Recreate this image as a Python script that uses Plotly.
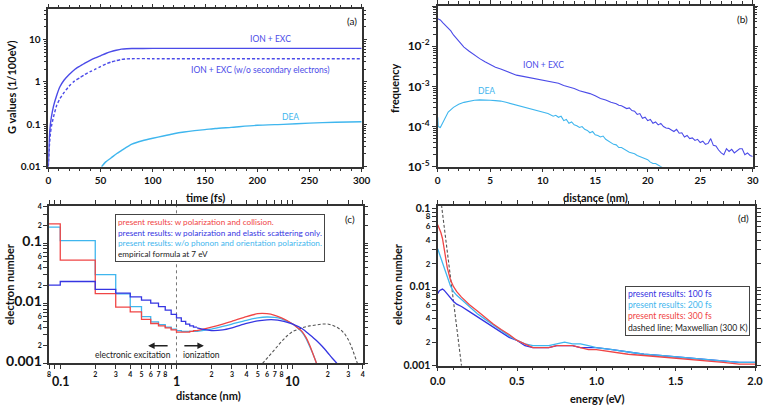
import math
import plotly.graph_objects as go

# ---------------- data ----------------
# (a) G values vs time
a_t_ion = [0, 1, 2, 3, 5, 8, 11, 15, 20, 25, 30, 35, 40, 45, 50, 55, 60, 65, 70, 75, 80, 100, 150, 200, 250, 300]
a_ion = [0.01, 0.05, 0.1, 0.15, 0.27, 0.48, 0.76, 1.1, 1.5, 1.95, 2.35, 2.8, 3.25, 3.7, 4.15, 4.7, 5.2, 5.6, 5.95, 6.1, 6.15, 6.2, 6.2, 6.2, 6.2, 6.2]
a_ion_nosec = [0.01, 0.03, 0.06, 0.09, 0.15, 0.28, 0.4, 0.56, 0.8, 1.05, 1.25, 1.5, 1.75, 2.0, 2.3, 2.65, 2.95, 3.2, 3.4, 3.52, 3.55, 3.55, 3.55, 3.55, 3.55, 3.55]
a_t_dea = [51, 55, 60, 65, 70, 80, 90, 100, 110, 120, 130, 140, 150, 160, 175, 200, 225, 250, 275, 300]
a_dea = [0.01, 0.013, 0.016, 0.02, 0.024, 0.034, 0.041, 0.047, 0.053, 0.06, 0.066, 0.071, 0.075, 0.08, 0.085, 0.095, 0.1, 0.107, 0.112, 0.115]

# (b) frequency vs distance
b_x_ion = [0, 0.25, 0.5, 0.75, 1.0, 1.25, 1.5, 2.0, 2.5, 3.0, 3.5, 4.0, 4.5, 5.0, 5.5, 6.0, 6.5, 7.0, 7.5, 8.0,
           8.5, 9.0, 9.5, 10.0, 10.5, 11.0, 11.5, 12.0, 12.5, 13.0, 13.5, 14.0, 14.5, 15.0, 15.5, 16.0, 16.5,
           17.0, 17.25, 17.5, 17.75, 18.0, 18.25, 18.5, 18.75, 19.0, 19.25, 19.5, 19.75, 20.0, 20.25, 20.5,
           20.75, 21.0, 21.25, 21.5, 21.75, 22.0, 22.25, 22.5, 22.75, 23.0, 23.25, 23.5, 23.75, 24.0, 24.25,
           24.5, 24.75, 25.0, 25.25, 25.5, 25.75, 26.0, 26.25, 26.5, 26.75, 27.0, 27.25, 27.5, 27.75, 28.0,
           28.25, 28.5, 28.75, 29.0, 29.25, 29.5, 29.75, 30.0]
b_ion = [0.048, 0.045, 0.038, 0.033, 0.028, 0.024, 0.019, 0.013, 0.0095, 0.0075, 0.006, 0.0049, 0.0041, 0.0035,
         0.003, 0.0027, 0.0024, 0.0021, 0.0019, 0.0018, 0.0017, 0.0016, 0.0015, 0.0014, 0.00135, 0.0013, 0.0012,
         0.00105, 0.00097, 0.00088, 0.00078, 0.00072, 0.00066, 0.00058, 0.0005, 0.00046, 0.0004,
         0.00037, 0.00034, 0.00033, 0.0003, 0.00028, 0.00029, 0.00025, 0.00024, 0.0002, 0.00021, 0.00016,
         0.00017, 0.00014, 0.00015, 0.00012, 0.00013, 0.00011, 0.00012, 0.0001, 0.000092, 0.00009, 0.000082,
         0.000075, 0.000085, 0.000068, 0.00007, 0.000055, 0.00006, 0.00005, 0.000052, 0.000045, 0.000048,
         0.00004, 0.000043, 0.000036, 0.000038, 0.00005, 0.000034, 0.000033, 0.000026, 0.000022, 0.00002,
         0.000028, 0.000024, 0.000027, 0.000022, 0.000025, 0.000028, 0.000028, 0.00002, 0.000022, 0.000019, 0.000018]
b_x_dea = [0, 0.05, 0.25, 0.5, 0.75, 1.0, 1.5, 2.0, 2.5, 3.0, 3.5, 4.0, 4.5, 5.0, 5.5, 6.0, 6.5, 7.0, 7.5, 8.0,
           8.5, 9.0, 9.5, 10.0, 10.5, 11.0, 11.25, 11.5, 11.75, 12.0, 12.25, 12.5, 12.75, 13.0, 13.25, 13.5,
           13.75, 14.0, 14.25, 14.5, 14.75, 15.0, 15.25, 15.5, 15.75, 16.0, 16.25, 16.5, 16.75, 17.0, 17.25,
           17.5, 17.75, 18.0, 18.25, 18.5, 18.75, 19.0, 19.25, 19.5, 19.75, 20.0, 20.25, 20.5, 20.75, 21.0, 21.4]
b_dea = [0.00017, 0.0001, 0.000095, 0.00013, 0.00018, 0.00023, 0.0003, 0.00036, 0.0004, 0.00043, 0.00045,
         0.00046, 0.00046, 0.00045, 0.00044, 0.00043, 0.0004, 0.00037, 0.00035, 0.00032, 0.00029, 0.00027,
         0.00025, 0.00023, 0.00021, 0.00018, 0.00019, 0.00017, 0.00018, 0.00014, 0.00015, 0.00012, 0.00013,
         0.00011, 0.000105, 0.000095, 0.0001, 0.000085, 0.00008, 0.00007, 0.000075, 0.000062, 0.00006,
         0.000055, 0.000058, 0.000048, 0.000044, 0.00004, 0.000036, 0.000035, 0.00003, 0.00003, 0.000027,
         0.000025, 0.000023, 0.000022, 0.000021, 0.000019, 0.000018, 0.000017, 0.000016, 0.000015, 0.000013,
         0.000012, 0.000012, 0.000011, 0.0000095]

# (c) electron number vs distance: step part (bin edges) and smooth part
c_step_edges = [0.08, 0.1, 0.2, 0.3, 0.4, 0.5, 0.6, 0.7, 0.8, 0.9, 1.0, 1.1, 1.2, 1.3, 1.4, 1.5]
c_red_steps = [0.21, 0.052, 0.0145, 0.0086, 0.0072, 0.0054, 0.0046, 0.0042, 0.0039, 0.0036, 0.0033, 0.0033, 0.0033, 0.0034, 0.0035]
c_cyan_steps = [0.185, 0.11, 0.030, 0.0143, 0.0088, 0.006, 0.0049, 0.0044, 0.004, 0.0037, 0.0035, 0.0034, 0.0034, 0.0034, 0.0034]
c_blue_steps = [0.020, 0.023, 0.017, 0.0147, 0.0128, 0.0113, 0.010, 0.0088, 0.0077, 0.0065, 0.0057, 0.005, 0.0045, 0.0042, 0.0040]
c_x_smooth = [1.5, 2, 2.5, 3, 4, 5, 6, 7, 8, 9, 10, 11, 12, 13, 14, 15, 16, 16.5]
c_red_smooth = [0.0035, 0.0040, 0.0045, 0.0050, 0.0060, 0.0067, 0.0067, 0.0063, 0.0057, 0.0051, 0.0045, 0.0039, 0.0034, 0.0027, 0.0020, 0.0014, 0.0010, 0.0008]
c_cyan_smooth = [0.0034, 0.0037, 0.0041, 0.0045, 0.0052, 0.0057, 0.0059, 0.0058, 0.0055, 0.0050, 0.0045, 0.0039, 0.0033, 0.0026, 0.0019, 0.0014, 0.0010, 0.0008]
c_x_blue_smooth = [1.5, 2, 2.5, 3, 4, 5, 6, 7, 8, 9, 10, 12, 14, 16, 18, 20, 22, 24, 25]
c_blue_smooth = [0.0039, 0.0035, 0.0036, 0.0039, 0.0046, 0.0051, 0.0053, 0.0053, 0.0051, 0.0048, 0.0045, 0.0038, 0.0030, 0.0024, 0.0019, 0.0015, 0.0012, 0.0010, 0.0009]
c_x_emp = [5.5, 6, 7, 8, 9, 10, 12, 14, 16, 18, 20, 22, 24, 26, 28, 30, 32, 34, 36]
c_emp = [0.001, 0.0012, 0.0017, 0.0023, 0.0029, 0.0034, 0.0039, 0.0042, 0.0044, 0.0045, 0.0045, 0.0043, 0.004, 0.0036, 0.0031, 0.0025, 0.0019, 0.0014, 0.001]

# (d) electron number vs energy
d_e = [0, 0.01, 0.02, 0.03, 0.04, 0.05, 0.06, 0.08, 0.1, 0.12, 0.15, 0.2, 0.25, 0.3, 0.35, 0.4, 0.45, 0.5,
       0.55, 0.6, 0.65, 0.7, 0.75, 0.8, 0.85, 0.9, 0.95, 1.0, 1.1, 1.2, 1.3, 1.4, 1.5, 1.6, 1.7, 1.8, 1.9, 2.0]
d_300 = [0.063, 0.057, 0.05, 0.042, 0.033, 0.024, 0.018, 0.0125, 0.0102, 0.0088, 0.0075, 0.006, 0.005, 0.0041,
         0.0034, 0.0029, 0.0025, 0.0021, 0.0019, 0.0017, 0.0017, 0.0017, 0.0018, 0.0018, 0.0018, 0.0017, 0.0016,
         0.0016, 0.0015, 0.0014, 0.00135, 0.0013, 0.00125, 0.0012, 0.00115, 0.0011, 0.00105, 0.00105]
d_200 = [0.031, 0.027, 0.024, 0.021, 0.018, 0.015, 0.013, 0.0105, 0.0088, 0.0079, 0.007, 0.0056, 0.0046, 0.0039,
         0.0033, 0.0028, 0.0024, 0.0021, 0.0019, 0.0018, 0.0018, 0.0018, 0.0019, 0.002, 0.0019, 0.0019, 0.0018,
         0.0017, 0.0016, 0.0015, 0.0014, 0.00135, 0.0013, 0.00125, 0.0012, 0.00115, 0.0011, 0.0011]
d_100 = [0.0083, 0.009, 0.0093, 0.0095, 0.0092, 0.0087, 0.0082, 0.0073, 0.0066, 0.0061, 0.0057, 0.0049, 0.0042,
         0.0036, 0.0031, 0.0027, 0.0023, 0.0021, 0.0018, 0.0017, 0.0017, 0.0017, 0.0018, 0.0018, 0.0018, 0.0017,
         0.0017, 0.0017, 0.0016, 0.0015, 0.0014, 0.00135, 0.0013, 0.00125, 0.0012, 0.00115, 0.0011, 0.0011]
d_e_max = [0.02, 0.04, 0.06, 0.08, 0.1, 0.12, 0.14, 0.15]
d_max = [0.13, 0.06, 0.03, 0.014, 0.0065, 0.003, 0.0014, 0.001]

# tick definitions
c_x_decades = [0.1, 1, 10]
c_x_decade_labels = ["0.1", "1", "10"]
c_y_decades = [0.001, 0.01, 0.1]
c_y_decade_labels = ["0.001", "0.01", "0.1"]
d_y_decades = [0.001, 0.01, 0.1]
d_y_decade_labels = ["0.001", "0.01", "0.1"]
b_y_decades = [1e-5, 1e-4, 1e-3, 1e-2, 1e-1]
b_y_labels = ["10<sup>-5</sup>", "10<sup>-4</sup>", "10<sup>-3</sup>", "10<sup>-2</sup>", "10<sup>-1</sup>"]
a_y_decades = [0.01, 0.1, 1, 10]
a_y_labels = ["0.01", "0.1", "1", "10"]

# ---------------- style ----------------
BLUE_A = "#4b4be8"
BLUE = "#3535e2"
CYAN = "#3fb6ee"
RED = "#f04545"
DARK = "#333333"
FONT = "Lato"

W, H = 764, 405


def px_x(v):
    return v / W


def px_y(v):
    return 1 - v / H


def step_xy(edges, vals):
    xs, ys = [], []
    for i, v in enumerate(vals):
        xs += [edges[i], edges[i + 1]]
        ys += [v, v]
    return xs, ys


def log_minor(lo_exp, hi_exp, top=None):
    out = []
    for e in range(lo_exp, hi_exp + 1):
        for m in range(2, 10):
            v = m * 10 ** e
            if top is None or v <= top:
                out.append(v)
    return out


fig = go.Figure()

# (a)
fig.add_trace(go.Scatter(x=a_t_ion, y=a_ion, mode="lines", line=dict(color=BLUE_A, width=1.4, shape="spline", smoothing=0.5), xaxis="x", yaxis="y"))
fig.add_trace(go.Scatter(x=a_t_ion, y=a_ion_nosec, mode="lines", line=dict(color=BLUE_A, width=1.4, dash="3px,2px", shape="spline", smoothing=0.5), xaxis="x", yaxis="y"))
fig.add_trace(go.Scatter(x=a_t_dea, y=a_dea, mode="lines", line=dict(color=CYAN, width=1.4, shape="spline", smoothing=0.5), xaxis="x", yaxis="y"))

# (b)
fig.add_trace(go.Scatter(x=b_x_ion, y=b_ion, mode="lines", line=dict(color=BLUE_A, width=1.1), xaxis="x2", yaxis="y2"))
fig.add_trace(go.Scatter(x=b_x_dea, y=b_dea, mode="lines", line=dict(color=CYAN, width=1.1), xaxis="x2", yaxis="y2"))

# (c)
fig.add_trace(go.Scatter(x=[1, 1], y=[0.001, 0.42], mode="lines", line=dict(color="#777", width=1, dash="dot"), xaxis="x3", yaxis="y3"))
fig.add_trace(go.Scatter(x=c_x_emp, y=c_emp, mode="lines", line=dict(color="#555", width=1.1, dash="3px,2px"), xaxis="x3", yaxis="y3"))
for steps, sx, sy, col in [(c_cyan_steps, c_x_smooth, c_cyan_smooth, CYAN),
                           (c_red_steps, c_x_smooth, c_red_smooth, RED),
                           (c_blue_steps, c_x_blue_smooth, c_blue_smooth, BLUE)]:
    xs, ys = step_xy(c_step_edges, steps)
    fig.add_trace(go.Scatter(x=xs, y=ys, mode="lines", line=dict(color=col, width=1.3), xaxis="x3", yaxis="y3"))
    fig.add_trace(go.Scatter(x=sx, y=sy, mode="lines", line=dict(color=col, width=1.3, shape="spline", smoothing=0.6), xaxis="x3", yaxis="y3"))

# (d)
fig.add_trace(go.Scatter(x=d_e_max, y=d_max, mode="lines", line=dict(color="#555", width=1.1, dash="3px,2px"), xaxis="x4", yaxis="y4"))
fig.add_trace(go.Scatter(x=d_e, y=d_100, mode="lines", line=dict(color=BLUE, width=1.3), xaxis="x4", yaxis="y4"))
fig.add_trace(go.Scatter(x=d_e, y=d_200, mode="lines", line=dict(color=CYAN, width=1.3), xaxis="x4", yaxis="y4"))
fig.add_trace(go.Scatter(x=d_e, y=d_300, mode="lines", line=dict(color=RED, width=1.3), xaxis="x4", yaxis="y4"))

base = dict(showline=True, linecolor=DARK, linewidth=1.5, mirror="ticks", ticks="outside",
            tickcolor=DARK, ticklen=4, tickwidth=1, showgrid=False, zeroline=False,
            automargin=False, tickfont=dict(family=FONT, size=10, color="#111", weight="bold"))


def ax(**kw):
    d = dict(base)
    d.update(kw)
    return d


def log_ticks(decades, dec_labels, lab_mults, top, big):
    vals, texts = [], []
    for dv, dl in zip(decades, dec_labels):
        for m in range(1, 10):
            v = m * dv
            if v > top * 1.0001:
                break
            vals.append(v)
            if m == 1:
                texts.append(f"<span style='font-size:{big}px'>{dl}</span>")
            elif m in lab_mults:
                texts.append(str(m))
            else:
                texts.append(" ")
    return vals, texts


c_xv, c_xt = [0.08, 0.09], ["8", " "]
for dv in c_x_decades:
    for m in range(1, 10):
        v = m * dv
        if v > 40.001:
            break
        c_xv.append(v)
        c_xt.append(" " if m in (1, 9) else str(m))

c_yv, c_yt = log_ticks(c_y_decades, c_y_decade_labels, (2, 4, 6), 0.4, 14)
d_yv, d_yt = log_ticks(d_y_decades, d_y_decade_labels, (2, 4, 6, 8), 0.1, 10.5)

fig.update_layout(
    width=W, height=H, margin=dict(l=0, r=0, t=0, b=0),
    paper_bgcolor="white", plot_bgcolor="white", showlegend=False,
    font=dict(family=FONT, color="#111"),
    xaxis=ax(domain=[px_x(48.3), px_x(361.7)], range=[0, 300], tickvals=[0, 50, 100, 150, 200, 250, 300],
             minor=dict(dtick=10, ticks="outside", ticklen=3, tickcolor=DARK), anchor="y"),
    yaxis=ax(domain=[px_y(166.7), px_y(9.3)], type="log", range=[-2, math.log10(52)],
             tickvals=a_y_decades, ticktext=a_y_labels,
             minor=dict(tickmode="array", tickvals=log_minor(-2, 1, 50), ticks="outside", ticklen=3, tickcolor=DARK), anchor="x"),
    xaxis2=ax(domain=[px_x(437.7), px_x(752.7)], range=[0, 30], tickvals=[0, 5, 10, 15, 20, 25, 30],
              minor=dict(dtick=1, ticks="outside", ticklen=3, tickcolor=DARK), anchor="y2"),
    yaxis2=ax(domain=[px_y(166.7), px_y(6.0)], type="log", range=[-5, -1],
              tickvals=b_y_decades, ticktext=b_y_labels, tickfont=dict(family=FONT, size=12, color="#111", weight="bold"),
              minor=dict(tickmode="array", tickvals=log_minor(-5, -2), ticks="outside", ticklen=3, tickcolor=DARK), anchor="x2"),
    xaxis3=ax(domain=[px_x(49), px_x(362.7)], type="log", range=[math.log10(0.08), math.log10(40)],
              tickvals=c_xv, ticktext=c_xt, tickfont=dict(family=FONT, size=7, color="#111", weight="bold"), anchor="y3"),
    yaxis3=ax(domain=[px_y(363.3), px_y(205.7)], type="log", range=[-3, math.log10(0.42)],
              tickvals=c_yv, ticktext=c_yt, tickfont=dict(family=FONT, size=7, color="#111", weight="bold"), anchor="x3"),
    xaxis4=ax(domain=[px_x(437.7), px_x(755)], range=[0, 2], tickvals=[0, 0.5, 1.0, 1.5, 2.0],
              ticktext=["0.0", "0.5", "1.0", "1.5", "2.0"], tickfont=dict(family=FONT, size=11, color="#111", weight="bold"),
              minor=dict(dtick=0.1, ticks="outside", ticklen=3, tickcolor=DARK), anchor="y4"),
    yaxis4=ax(domain=[px_y(365.7), px_y(205.7)], type="log", range=[-3, math.log10(0.11)],
              tickvals=d_yv, ticktext=d_yt, tickfont=dict(family=FONT, size=8, color="#111", weight="bold"), anchor="x4"),
)

ann = []


def txt(x, y, s, size=9, color="#111", bold=False, angle=0, xanchor="center", yanchor="middle"):
    ann.append(dict(xref="paper", yref="paper", x=px_x(x), y=px_y(y), text=s, showarrow=False,
                    font=dict(family=FONT, size=size, color=color, weight="bold" if bold else "normal"),
                    textangle=angle, xanchor=xanchor, yanchor=yanchor))


# axis titles
txt(205, 197, "time (fs)", 11, bold=True)
txt(12, 88, "G values (1/100eV)", 11, bold=True, angle=-90)
txt(595, 197, "distance (nm)", 11, bold=True)
txt(395, 88, "frequency", 11, bold=True, angle=-90)
txt(208, 395.5, "distance (nm)", 11, bold=True)
txt(9, 284, "electron number", 11, bold=True, angle=-90)
txt(597, 398, "energy (eV)", 11, bold=True)
txt(397, 284, "electron number", 11, bold=True, angle=-90)

# panel labels
txt(352, 21, "(a)", 10)
txt(742, 19, "(b)", 10)
txt(350, 219, "(c)", 10)
txt(743, 218, "(d)", 10)

# curve labels
txt(270, 39, "ION + EXC", 8.5, BLUE_A)
txt(260, 70, "ION + EXC (w/o secondary electrons)", 8.5, BLUE_A)
txt(290, 117, "DEA", 8.5, CYAN)
txt(543, 65, "ION + EXC", 8.5, BLUE_A)
txt(486, 91, "DEA", 8.5, CYAN)

# (c) major x labels
for v, lab in zip(c_x_decades, c_x_decade_labels):
    ann.append(dict(xref="x3", yref="paper", x=math.log10(v), y=px_y(381), text=lab, showarrow=False,
                    font=dict(family=FONT, size=12.5, color="#111", weight="bold"), xanchor="center", yanchor="middle"))

# (c) arrows and labels
ann.append(dict(xref="x3", yref="y3", x=math.log10(0.57), y=math.log10(0.00196), ax=21, ay=0, text="",
                showarrow=True, arrowhead=2, arrowsize=1, arrowwidth=1.3, arrowcolor="#222"))
ann.append(dict(xref="x3", yref="y3", x=math.log10(1.72), y=math.log10(0.00196), ax=-21, ay=0, text="",
                showarrow=True, arrowhead=2, arrowsize=1, arrowwidth=1.3, arrowcolor="#222"))
txt(133, 355, "electronic excitation", 8.5, "#222")
txt(202, 355, "ionization", 8.5, "#222")

# legends
leg_c = ("<span style='color:%s'>present results: w polarization and collision.</span><br>"
         "<span style='color:%s'>present results: w polarization and elastic scattering only.</span><br>"
         "<span style='color:%s'>present results: w/o phonon and orientation polarization.</span><br>"
         "<span style='color:#222'>empirical formula at 7 eV</span>") % (RED, BLUE, CYAN)
ann.append(dict(xref="paper", yref="paper", x=px_x(115), y=px_y(214), xanchor="left", yanchor="top",
                text=leg_c, showarrow=False, align="left", bordercolor="#444", borderwidth=1, borderpad=2,
                bgcolor="white", font=dict(family=FONT, size=8.2)))
leg_d = ("<span style='color:%s'>present results: 100 fs</span><br>"
         "<span style='color:%s'>present results: 200 fs</span><br>"
         "<span style='color:%s'>present results: 300 fs</span><br>"
         "<span style='color:#222'>dashed line; Maxwellian (300 K)</span>") % (BLUE, CYAN, RED)
ann.append(dict(xref="paper", yref="paper", x=px_x(625), y=px_y(286), xanchor="left", yanchor="top",
                text=leg_d, showarrow=False, align="left", bordercolor="#444", borderwidth=1, borderpad=2,
                bgcolor="white", font=dict(family=FONT, size=8.6)))

fig.update_layout(annotations=ann)
fig.write_html("out.html", config={"displayModeBar": False},
               post_script="document.body.style.margin='0';")
